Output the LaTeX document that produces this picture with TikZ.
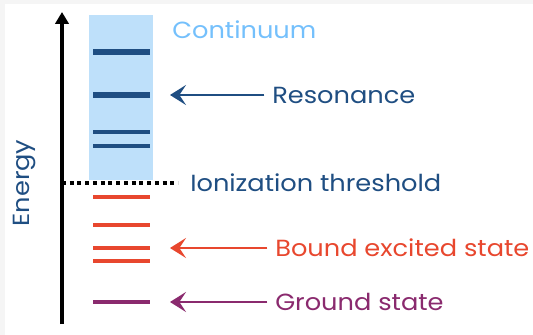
\documentclass[tikz,border=0pt]{standalone}
\usepackage{fontspec}
\setmainfont{Poppins}[FakeStretch=1.1]
\usepackage{xcolor}
\usetikzlibrary{arrows.meta}

\definecolor{inkblue}{HTML}{1F4E82}
\definecolor{skyfill}{HTML}{BEE0FA}
\definecolor{skytext}{HTML}{74C0FC}
\definecolor{inkred}{HTML}{E8472E}
\definecolor{inkplum}{HTML}{8A2A6E}

\tikzset{
  lbl/.style={anchor=west,inner sep=0.75pt,font=\fontsize{17.5}{20}\selectfont},
  level/.style={line width=2.6pt},
  reslevel/.style={line width=5pt,inkblue},
  pointer/.style={line width=2pt,shorten <=5pt,-{Stealth[length=12pt,width=15pt,inset=5pt]}},
}

\begin{document}
\begin{tikzpicture}[x=0.75pt,y=0.75pt,yscale=-1,xscale=1]
\fill[black!4] (0,0) rectangle (533,335);
\fill[white] (5,4) rectangle (533,335);
\useasboundingbox (0,0) rectangle (533,335);

% continuum band
\fill[skyfill] (89,15) rectangle (153,180);
\draw[reslevel] (93,52) -- (150,52);
\draw[reslevel] (93,95) -- (150,95);
\draw[line width=2.6pt,inkblue] (93,132) -- (150,132);
\draw[line width=2.6pt,inkblue] (93,146) -- (150,146);

% bound levels
\draw[level,inkred] (93,197) -- (150,197);
\draw[level,inkred] (93,225) -- (150,225);
\draw[level,inkred] (93,248) -- (150,248);
\draw[level,inkred] (93,261) -- (150,261);
\draw[level,inkplum] (93,302) -- (150,302);

% energy axis and threshold
\draw[line width=2.4pt,-{Triangle[length=9pt,width=10pt]}] (62,324) -- (62,12);
\draw[line width=3pt,dash pattern=on 3pt off 2.8pt] (62,183) -- (178,183);
\node[lbl,anchor=center,rotate=90,inkblue] (energy) at (25,183) {Energy};

% labels
\node[lbl,skytext] (continuum) at (171,30) {Continuum};
\node[lbl,inkblue] (resonance) at (271,95) {Resonance};
\node[lbl,inkblue] (threshold) at (189,183) {Ionization threshold};
\node[lbl,inkred] (bound) at (274,248) {Bound excited state};
\node[lbl,inkplum] (ground) at (274,302) {Ground state};

% pointers
\coordinate (restip) at (170,95);
\coordinate (boundtip) at (170,248);
\coordinate (groundtip) at (170,302);
\draw[pointer,inkblue] (resonance.west) -- (restip);
\draw[pointer,inkred] (bound.west) -- (boundtip);
\draw[pointer,inkplum] (ground.west) -- (groundtip);
\end{tikzpicture}
\end{document}
